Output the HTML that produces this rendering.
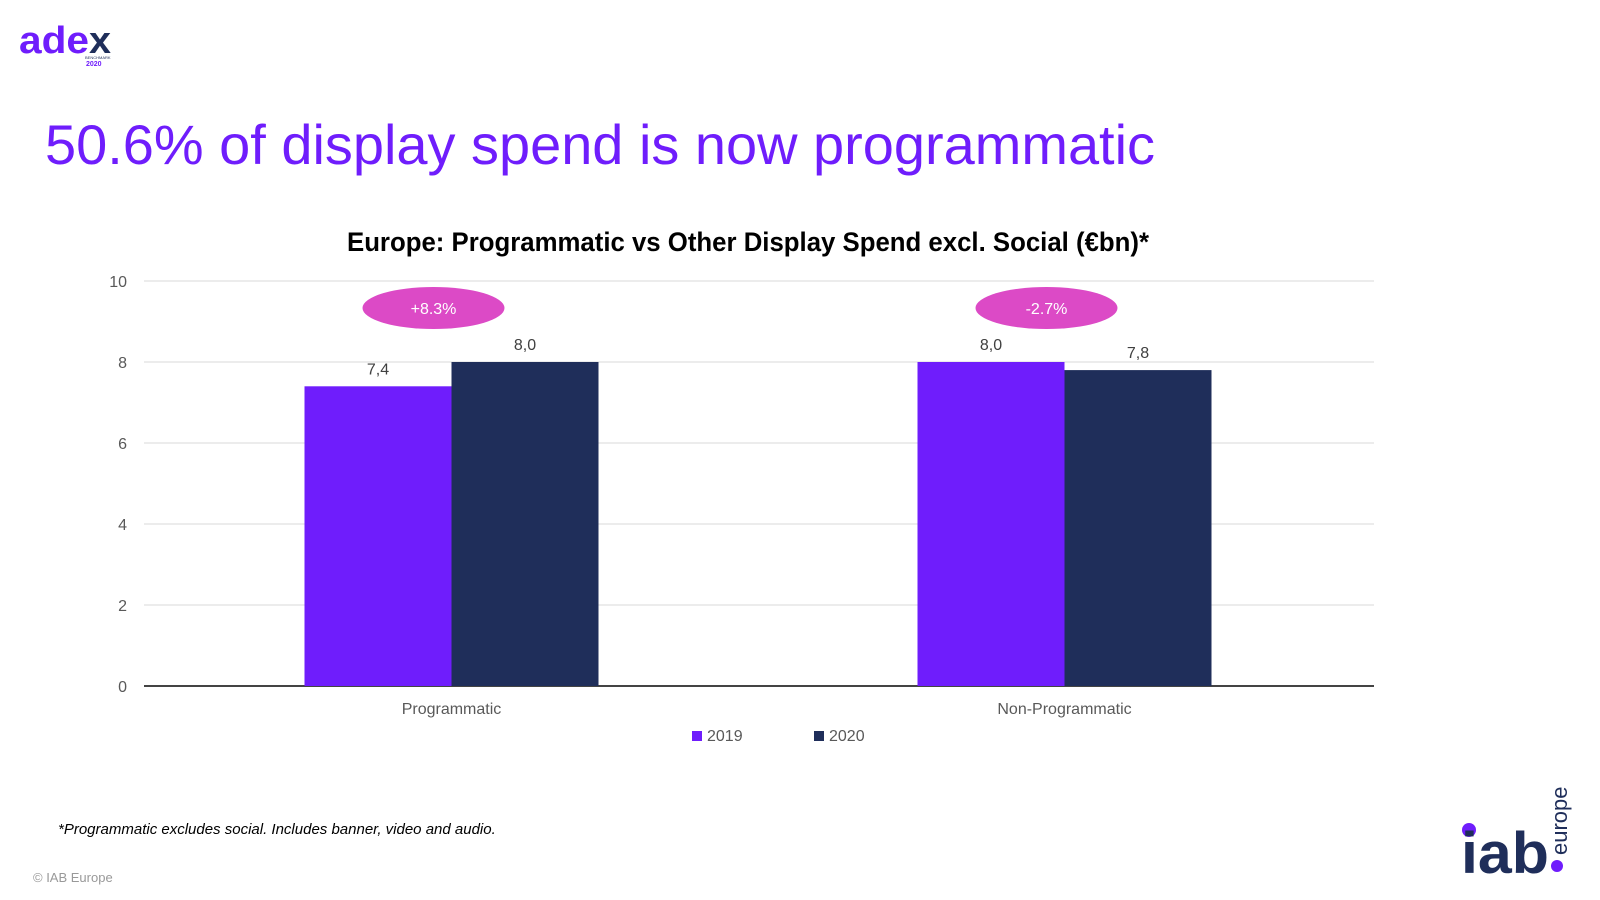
<!DOCTYPE html>
<html><head><meta charset="utf-8"><style>body{margin:0;background:#fff}svg{display:block;font-family:"Liberation Sans",sans-serif}</style></head>
<body>
<svg width="1600" height="900" viewBox="0 0 1600 900">
<g>
<text x="19" y="53" font-size="38" font-weight="bold" fill="#6f1dfc" textLength="70" lengthAdjust="spacingAndGlyphs">ade</text>
<text x="89" y="53" font-size="38" font-weight="bold" fill="#1f2e5a" textLength="22" lengthAdjust="spacingAndGlyphs">x</text>
<text x="85" y="59" font-size="4" fill="#1f2e5a">BENCHMARK</text>
<text x="86" y="66" font-size="7" font-weight="bold" fill="#6f1dfc">2020</text>
</g>
<text x="45" y="164" font-size="56" fill="#6f1dfc" textLength="1110" lengthAdjust="spacingAndGlyphs">50.6% of display spend is now programmatic</text>
<text x="347" y="251" font-size="27" font-weight="bold" fill="#000" textLength="802" lengthAdjust="spacingAndGlyphs">Europe: Programmatic vs Other Display Spend excl. Social (€bn)*</text>
<g id="chart"></g>
<text x="58" y="834" font-size="15" font-style="italic" fill="#000">*Programmatic excludes social. Includes banner, video and audio.</text>
<text x="33" y="882" font-size="13" fill="#999">© IAB Europe</text>
<g>
<circle cx="1469" cy="830" r="7" fill="#6f1dfc"/>
<text x="1461" y="873" font-size="58" font-weight="bold" fill="#1f2e5a" textLength="88" lengthAdjust="spacingAndGlyphs">iab</text>
<circle cx="1557" cy="866" r="6" fill="#6f1dfc"/>
<text transform="translate(1567,855) rotate(-90)" font-size="22" fill="#1f2e5a">europe</text>
</g>
</svg>
<script>
const categories=["Programmatic","Non-Programmatic"];
const series2019=[7.4,8.0];
const series2020=[8.0,7.8];
const labels2019=["7,4","8,0"];
const labels2020=["8,0","7,8"];
const growthLabels=["+8.3%","-2.7%"];
const yTicks=[0,2,4,6,8,10];
const legendNames=["2019","2020"];
const colors=["#6f1dfc","#1f2e5a"];
const NS="http://www.w3.org/2000/svg";
const g=document.getElementById('chart');
const y0=686,yTop=281,yMax=10;
const y=v=>y0-(v/yMax)*(y0-yTop);
const catW=613,xStart=145;
const xc=i=>xStart+catW*(i+0.5);
const bw=147;
function mk(t,a,txt){const e=document.createElementNS(NS,t);for(const k in a)e.setAttribute(k,a[k]);if(txt!=null)e.textContent=txt;g.appendChild(e);return e;}
yTicks.forEach(t=>{
 const l=mk('line',{x1:144,x2:1374,y1:y(t),y2:y(t),stroke:t===0?'#444':'#d9d9d9','stroke-width':t===0?2:1});
 
 
 const tx=mk('text',{x:127,y:y(t)+6,'text-anchor':'end','font-size':16,fill:'#595959'},String(t));
 
 
});
categories.forEach((c,i)=>{
 const cx=xc(i);
 [[series2019,labels2019,0],[series2020,labels2020,1]].forEach(([s,lb,k])=>{
  const x=cx-bw+k*bw;
  const r=mk('rect',{x:x,y:y(s[i]),width:bw,height:y0-y(s[i]),fill:colors[k]});
  
  
  const t=mk('text',{x:x+bw/2,y:y(s[i])-12,'text-anchor':'middle','font-size':16,fill:'#404040'},lb[i]);
  
  
 });
 const e=mk('ellipse',{cx:cx-18,cy:308,rx:71,ry:21,fill:'#dc4ac6'});
 
 
 const et=mk('text',{x:cx-18,y:314,'text-anchor':'middle','font-size':16,fill:'#fff'},growthLabels[i]);
 
 
 const ct=mk('text',{x:cx,y:714,'text-anchor':'middle','font-size':16,fill:'#595959'},c);
 
 
});
legendNames.forEach((n,k)=>{
 const lx=692+k*122;
 const r=mk('rect',{x:lx,y:731,width:10,height:10,fill:colors[k]});
 
 
 const t=mk('text',{x:lx+15,y:741,'font-size':16,fill:'#595959'},n);
 
 
});
</script>
</body></html>
